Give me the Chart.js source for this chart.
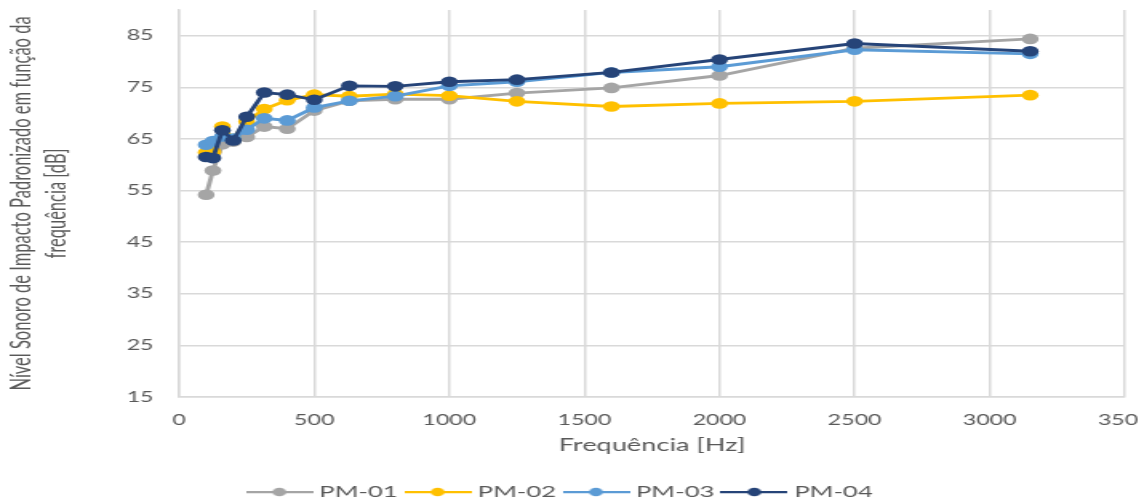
<!DOCTYPE html>
<html>
<head>
<meta charset="utf-8">
<script src="https://cdn.jsdelivr.net/npm/chart.js@4.4.1/dist/chart.umd.min.js"></script>
<style>
  html, body { margin: 0; padding: 0; background: #ffffff; overflow: hidden; width: 1138px; height: 502px; }
  #wrap { width: 740px; height: 502px; transform: scaleX(1.6); transform-origin: 0 0; }
  canvas { display: block; }
</style>
</head>
<body>
<div id="wrap"><canvas id="c" width="740" height="502"></canvas></div>
<script>
// ---- data ----
const frequencies = [100, 125, 160, 200, 250, 315, 400, 500, 630, 800, 1000, 1250, 1600, 2000, 2500, 3150];
const seriesNames = ['PM-01', 'PM-02', 'PM-03', 'PM-04'];
const pm01 = [54.2, 58.9, 64.0, 64.5, 65.4, 67.4, 67.0, 70.5, 72.4, 72.7, 72.7, 73.9, 74.9, 77.3, 82.6, 84.4];
const pm02 = [62.4, 62.5, 67.4, 65.0, 68.4, 70.8, 72.5, 73.6, 73.3, 73.7, 73.4, 72.3, 71.3, 71.9, 72.3, 73.5];
const pm03 = [63.9, 64.6, 65.5, 65.1, 66.8, 69.0, 68.6, 71.1, 72.4, 73.3, 75.3, 76.1, 77.9, 79.0, 82.3, 81.5];
const pm04 = [61.5, 61.3, 66.7, 64.7, 69.3, 74.0, 73.6, 72.6, 75.3, 75.2, 76.1, 76.5, 77.9, 80.4, 83.5, 82.0];
const xTicks = [0, 500, 1000, 1500, 2000, 2500, 3000, 3500];
const yTicks = [15, 25, 35, 45, 55, 65, 75, 85];
const xTitle = 'Frequência [Hz]';
const yTitle = ['Nível Sonoro de Impacto Padronizado em função da', 'frequência [dB]'];
const colors = ['#A5A5A5', '#FFC000', '#5B9BD5', '#264478'];

const seriesValues = [pm01, pm02, pm03, pm04];
const FONT = 'Lato, "Open Sans", sans-serif';
const TEXT = '#595959';
const GRID = '#d9d9d9';

function makeIcon(color) {
  const cv = document.createElement('canvas');
  cv.width = 42; cv.height = 12;
  const g = cv.getContext('2d');
  g.strokeStyle = color; g.lineWidth = 2.25;
  g.beginPath(); g.moveTo(0, 6); g.lineTo(42, 6); g.stroke();
  g.fillStyle = color;
  g.beginPath(); g.arc(21, 6, 4.3, 0, Math.PI * 2); g.fill();
  return cv;
}
const icons = colors.map(makeIcon);

const datasets = seriesNames.map((name, i) => ({
  label: name,
  data: frequencies.map((f, k) => ({ x: f, y: seriesValues[i][k] })),
  borderColor: colors[i],
  backgroundColor: colors[i],
  pointBackgroundColor: colors[i],
  pointBorderColor: colors[i],
  pointBorderWidth: 0,
  pointRadius: 5.3,
  borderWidth: 2.9,
  tension: 0,
  order: 4 - i
}));

new Chart(document.getElementById('c'), {
  type: 'line',
  data: { datasets },
  options: {
    responsive: false,
    animation: false,
    devicePixelRatio: 1,
    layout: { padding: { left: 0, right: 37, top: 10, bottom: -8 } },
    plugins: {
      tooltip: { enabled: false },
      legend: {
        position: 'bottom',
        labels: {
          sort: (a, b) => a.datasetIndex - b.datasetIndex,
          usePointStyle: true,
          pointStyleWidth: 34,
          padding: 8,
          color: TEXT,
          font: { family: FONT, size: 16 },
          generateLabels(chart) {
            const items = Chart.defaults.plugins.legend.labels.generateLabels(chart);
            items.forEach(it => { it.pointStyle = icons[it.datasetIndex]; });
            return items;
          }
        }
      }
    },
    scales: {
      x: {
        type: 'linear',
        min: 0, max: 3500,
        afterBuildTicks: s => { s.ticks = xTicks.map(v => ({ value: v })); },
        afterFit: s => { s.height = 79; s.paddingLeft = 0; s.paddingRight = 0; },
        grid: { color: GRID, lineWidth: 1.5, drawTicks: false },
        border: { color: GRID, width: 1.5 },
        ticks: { color: TEXT, font: { family: FONT, size: 14.5 }, padding: 15, maxRotation: 0, callback: v => String(v) },
        title: { display: true, text: xTitle, color: TEXT, font: { family: FONT, size: 17 }, padding: { top: 4, bottom: 20 } }
      },
      y: {
        type: 'linear',
        min: 15, max: 90,
        afterBuildTicks: s => { s.ticks = yTicks.map(v => ({ value: v })); },
        afterFit: s => { s.width = 112; s.paddingTop = 0; s.paddingBottom = 0; },
        grid: { color: GRID, lineWidth: 1.5, drawTicks: false },
        border: { color: GRID, width: 1.5 },
        ticks: { color: TEXT, font: { family: FONT, size: 14.5 }, padding: 16, callback: v => String(v) },
        title: { display: true, text: yTitle, color: TEXT, font: { family: FONT, size: 16.5, lineHeight: 1.33 }, padding: { top: 3, bottom: 0 } }
      }
    }
  }
});
</script>
</body>
</html>
